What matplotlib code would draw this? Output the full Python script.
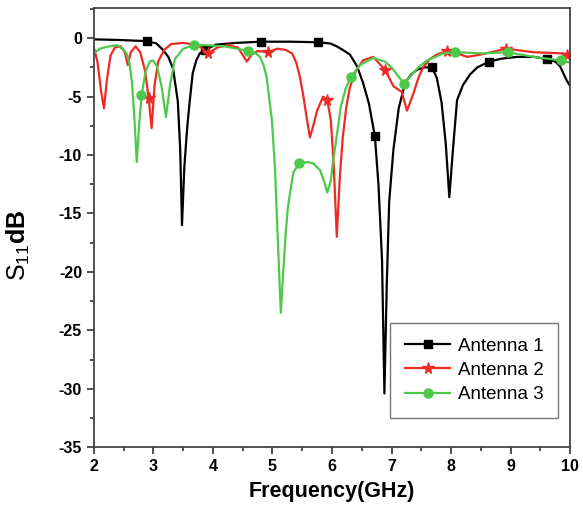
import numpy as np
import matplotlib
matplotlib.use("Agg")
import matplotlib.pyplot as plt
from matplotlib.ticker import MultipleLocator

# S11 curves (GHz, dB)
a1_freq = [2.00, 2.40, 2.89, 3.05, 3.16, 3.25, 3.33, 3.41, 3.45, 3.48, 3.52, 3.57,
           3.61, 3.66, 3.72, 3.78, 3.87, 4.05, 4.40, 4.81, 5.30, 5.76, 5.97, 6.08,
           6.18, 6.30, 6.42, 6.52, 6.62, 6.72, 6.78, 6.84, 6.88, 6.92, 6.96, 7.03,
           7.12, 7.23, 7.33, 7.43, 7.55, 7.68, 7.76, 7.84, 7.91, 7.97, 8.03, 8.10,
           8.20, 8.32, 8.44, 8.64, 8.85, 9.11, 9.40, 9.61, 9.75, 9.83, 9.94, 10.00]
a1_s11 = [-0.10, -0.15, -0.25, -0.45, -1.0, -1.6, -2.6, -5.4, -9.5, -16.0, -11.0, -7.5,
          -5.4, -3.0, -1.9, -1.3, -1.0, -0.55, -0.4, -0.3, -0.3, -0.35, -0.45, -0.7,
          -1.0, -1.4, -2.4, -3.8, -5.6, -8.4, -12.5, -19.0, -30.4, -21.0, -14.0, -9.6,
          -6.0, -3.8, -3.1, -2.7, -2.5, -2.5, -3.4, -5.5, -9.0, -13.6, -9.6, -5.3,
          -4.0, -3.1, -2.5, -2.0, -1.75, -1.6, -1.6, -1.8, -2.0, -2.4, -3.6, -4.1]
a1_marks = [2.89, 3.87, 4.81, 5.76, 6.72, 7.68, 8.64, 9.61]

a2_freq = [2.00, 2.06, 2.12, 2.17, 2.22, 2.28, 2.35, 2.45, 2.52, 2.57, 2.62, 2.70,
           2.78, 2.86, 2.92, 2.97, 3.02, 3.08, 3.18, 3.30, 3.50, 3.75, 3.92, 4.07,
           4.25, 4.42, 4.52, 4.57, 4.65, 4.75, 4.92, 5.08, 5.22, 5.33, 5.40, 5.46,
           5.52, 5.58, 5.63, 5.69, 5.75, 5.85, 5.92, 5.98, 6.03, 6.08, 6.13, 6.18,
           6.24, 6.30, 6.40, 6.52, 6.69, 6.89, 7.03, 7.17, 7.26, 7.37, 7.45, 7.53,
           7.64, 7.76, 7.93, 8.10, 8.27, 8.50, 8.93, 9.38, 9.88, 9.95, 10.00]
a2_s11 = [-0.8, -2.0, -4.5, -6.0, -3.5, -1.5, -0.8, -0.7, -1.2, -2.3, -1.2, -0.7,
          -1.2, -2.8, -5.1, -7.7, -4.0, -2.0, -1.0, -0.5, -0.4, -0.6, -1.3, -0.8,
          -0.6, -0.8, -1.6, -2.0, -1.4, -1.1, -1.2, -0.9, -1.0, -1.3, -2.1, -3.3,
          -5.0, -7.0, -8.5, -7.4, -6.2, -5.0, -5.3, -7.0, -11.0, -17.0, -12.0, -8.5,
          -5.9, -4.2, -2.8, -1.9, -1.6, -2.7, -4.1, -4.6, -6.2, -4.7, -3.4, -2.5,
          -1.8, -1.4, -1.1, -1.3, -1.6, -1.4, -0.9, -1.2, -1.3, -1.4, -1.5]
a2_marks = [2.92, 3.92, 4.92, 5.92, 6.89, 7.93, 8.93, 9.95]

a3_freq = [2.00, 2.10, 2.25, 2.39, 2.50, 2.55, 2.60, 2.64, 2.68, 2.72, 2.76, 2.80,
           2.87, 2.94, 2.99, 3.06, 3.14, 3.21, 3.28, 3.36, 3.50, 3.68, 3.90, 4.20,
           4.50, 4.59, 4.72, 4.79, 4.85, 4.90, 4.99, 5.04, 5.09, 5.14, 5.18, 5.22,
           5.26, 5.35, 5.45, 5.58, 5.68, 5.80, 5.87, 5.92, 5.98, 6.02, 6.07, 6.15,
           6.23, 6.32, 6.47, 6.69, 6.89, 7.00, 7.09, 7.21, 7.36, 7.47, 7.60, 7.87,
           8.07, 8.54, 8.96, 9.38, 9.85, 10.00]
a3_s11 = [-1.3, -0.9, -0.7, -0.6, -1.0, -1.3, -2.2, -3.8, -6.8, -10.6, -7.5, -4.9,
          -2.8, -2.0, -1.9, -2.4, -4.2, -6.75, -4.0, -1.8, -0.9, -0.6, -0.6, -0.7,
          -1.0, -1.1, -1.3, -1.6, -2.3, -3.3, -7.0, -11.0, -17.3, -23.5, -20.1, -16.8,
          -14.4, -11.5, -10.7, -10.6, -10.7, -11.3, -12.3, -13.2, -12.2, -10.4, -8.7, -5.8,
          -4.3, -3.3, -2.3, -1.7, -2.0, -2.5, -3.1, -3.9, -3.0, -2.4, -1.9, -1.3,
          -1.2, -1.3, -1.2, -1.6, -1.9, -2.1]
a3_marks = [2.80, 3.68, 4.59, 5.45, 6.32, 7.21, 8.07, 8.96, 9.85]

plt.rcParams['font.family'] = ['Liberation Sans', 'DejaVu Sans']
plt.rcParams['axes.unicode_minus'] = False
plt.rcParams['mathtext.fontset'] = 'custom'
plt.rcParams['mathtext.rm'] = 'Liberation Sans'
plt.rcParams['mathtext.bf'] = 'Liberation Sans:bold'

fig = plt.figure(figsize=(5.83, 5.2), dpi=100)
ax = fig.add_axes([0.161, 0.140, 0.817, 0.845])

series = [
    (a1_freq, a1_s11, a1_marks, 'black', 's', 5.5, 'Antenna 1'),
    (a2_freq, a2_s11, a2_marks, '#ee2a24', '*', 8.5, 'Antenna 2'),
    (a3_freq, a3_s11, a3_marks, '#4cc94a', 'o', 6.5, 'Antenna 3'),
]
for fx, fy, marks, col, mk, ms, lab in series:
    fx = np.array(fx)
    every = np.isin(np.round(fx, 2), np.round(marks, 2))
    ax.plot(fx, fy, color=col, lw=1.6, marker=mk, ms=ms, markevery=list(every),
            label=lab)

ax.set_xlim(2, 10)
ax.set_ylim(-35, 2.6)
ax.xaxis.set_major_locator(MultipleLocator(1))
ax.xaxis.set_minor_locator(MultipleLocator(0.5))
ax.yaxis.set_major_locator(MultipleLocator(5))
ax.yaxis.set_minor_locator(MultipleLocator(2.5))
ax.tick_params(which='both', direction='out', top=False, right=False,
               width=1.2, colors='#333333')
ax.tick_params(which='major', length=5, labelsize=11.5, labelcolor='black')
ax.tick_params(which='minor', length=3)
for lbl in ax.get_xticklabels() + ax.get_yticklabels():
    lbl.set_fontweight('bold')
for sp in ax.spines.values():
    sp.set_linewidth(1.3)
    sp.set_color('#444444')

ax.set_xlabel('Frequency(GHz)', fontsize=15.5, fontweight='bold', labelpad=5)
ax.set_ylabel(r'$\mathrm{S_{11}}\mathbf{dB}$', fontsize=18)
ax.yaxis.set_label_coords(-0.13, 0.46)

leg = ax.legend(loc='lower right', bbox_to_anchor=(0.975, 0.066), fontsize=13.5,
                frameon=True, fancybox=False, edgecolor='#555555',
                handlelength=2.4, handletextpad=0.4, borderpad=0.8,
                labelspacing=0.38, borderaxespad=0)
leg.get_frame().set_linewidth(1.0)

fig.savefig('out.png', dpi=100)
